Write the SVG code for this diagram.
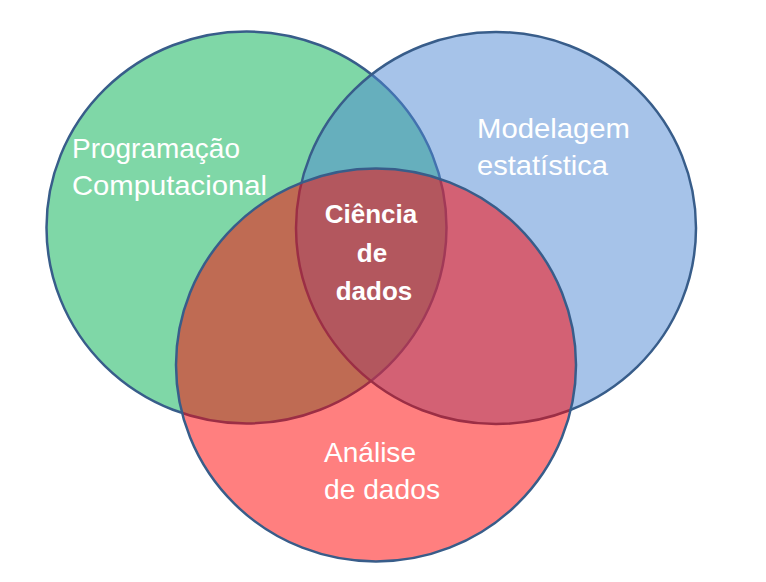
<svg xmlns="http://www.w3.org/2000/svg" width="766" height="582" viewBox="0 0 766 582">
<style>
.c{stroke:#385D8A;stroke-width:2.5;fill-opacity:0.5}
.t{font-family:"Liberation Sans",Arial,sans-serif;font-size:28px;fill:#FFFFFF}
.b{font-family:"Liberation Sans",Arial,sans-serif;font-size:26px;font-weight:bold;fill:#FFFFFF;text-anchor:middle}
</style>
<rect width="766" height="582" fill="#FFFFFF"/>
<g id="programacao">
<ellipse class="c" cx="246.5" cy="227.5" rx="200" ry="196" fill="#00B050"/>
</g>
<g id="modelagem">
<ellipse class="c" cx="496" cy="228" rx="200" ry="196" fill="#4D87D3"/>
</g>
<g id="analise">
<ellipse class="c" cx="376" cy="365" rx="200" ry="196.5" fill="#FF0000"/>
</g>
<g id="labels">
<text class="t" x="72" y="158" textLength="168" lengthAdjust="spacingAndGlyphs">Programação</text>
<text class="t" x="72" y="195" textLength="195" lengthAdjust="spacingAndGlyphs">Computacional</text>
<text class="t" x="477" y="138" textLength="153" lengthAdjust="spacingAndGlyphs">Modelagem</text>
<text class="t" x="477" y="175" textLength="131" lengthAdjust="spacingAndGlyphs">estatística</text>
<text class="t" x="324" y="462" textLength="92" lengthAdjust="spacingAndGlyphs">Análise</text>
<text class="t" x="324" y="499" textLength="116" lengthAdjust="spacingAndGlyphs">de dados</text>
</g>
<g id="ciencia">
<text class="b" x="371" y="223">Ciência</text>
<text class="b" x="372" y="262">de</text>
<text class="b" x="374" y="300">dados</text>
</g>
</svg>
